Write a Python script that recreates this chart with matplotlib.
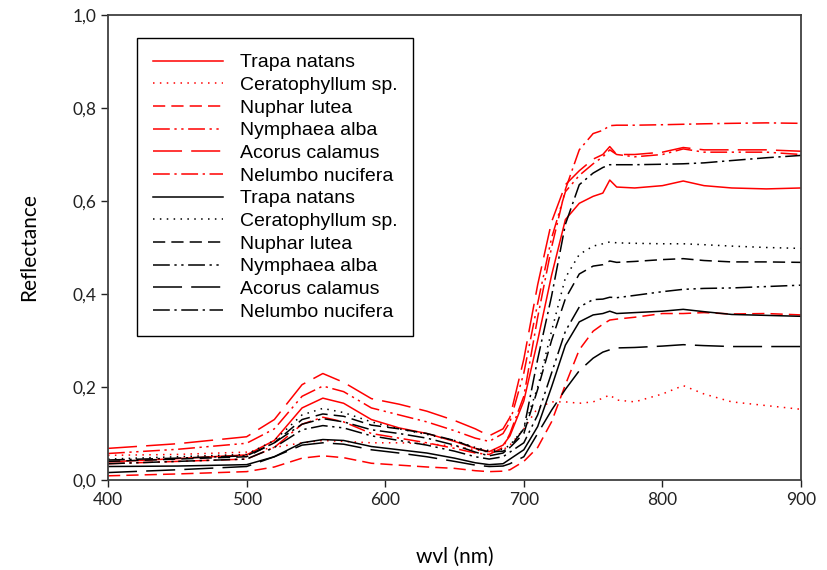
import matplotlib.pyplot as plt
from matplotlib.ticker import FuncFormatter

# wavelengths (nm)
wvl = [400, 450, 500, 520, 540, 555, 570, 590, 610, 630, 650, 665, 675, 685, 690,
       700, 710, 720, 730, 740, 750, 757, 762, 767, 780, 800, 815, 830, 850, 875, 900]

names = ['Trapa natans', 'Ceratophyllum sp.', 'Nuphar lutea',
         'Nymphaea alba', 'Acorus calamus', 'Nelumbo nucifera']

# red group
red_trapa = [.039, .046, .054, .085, .155, .176, .165, .13, .112, .1, .083, .068, .061, .075, .095,
             .17, .30, .44, .56, .595, .61, .617, .645, .63, .628, .633, .643, .633, .628, .626, .628]
red_cerato = [.053, .055, .06, .07, .08, .085, .083, .08, .08, .078, .073, .065, .06, .065, .075,
              .11, .155, .168, .168, .165, .168, .176, .183, .172, .168, .185, .203, .185, .168, .16, .152]
red_nuphar = [.009, .013, .018, .028, .047, .052, .048, .036, .032, .028, .025, .02, .018, .019, .022,
              .04, .07, .125, .205, .28, .32, .335, .344, .346, .35, .358, .358, .36, .357, .358, .355]
red_nymph = [.057, .066, .079, .11, .18, .202, .19, .155, .14, .125, .106, .09, .083, .1, .125,
             .23, .38, .52, .62, .655, .68, .695, .71, .70, .695, .70, .712, .705, .705, .705, .70]
red_acorus = [.068, .078, .093, .13, .205, .229, .21, .175, .163, .148, .128, .11, .095, .11, .135,
              .26, .42, .555, .635, .665, .69, .70, .717, .70, .70, .705, .715, .71, .71, .71, .707]
red_nelumbo = [.035, .04, .045, .07, .12, .135, .125, .1, .09, .08, .068, .058, .055, .07, .1,
               .18, .35, .50, .625, .71, .745, .752, .762, .763, .763, .764, .765, .766, .767, .768, .767]

# black group
blk_trapa = [.029, .03, .033, .05, .08, .087, .085, .072, .065, .058, .047, .037, .033, .035, .045,
             .065, .115, .20, .29, .34, .355, .358, .363, .358, .36, .363, .367, .362, .356, .354, .352]
blk_cerato = [.045, .05, .055, .085, .14, .154, .145, .125, .11, .098, .085, .07, .063, .066, .075,
              .11, .2, .32, .435, .485, .503, .508, .512, .51, .509, .508, .508, .506, .503, .5, .498]
blk_nuphar = [.04, .045, .05, .08, .13, .142, .137, .118, .11, .1, .085, .068, .06, .062, .07,
              .1, .195, .3, .39, .443, .46, .463, .471, .468, .47, .474, .476, .472, .469, .469, .468]
blk_nymph = [.035, .04, .045, .07, .108, .117, .112, .095, .085, .075, .062, .05, .045, .05, .06,
             .08, .14, .23, .32, .372, .388, .389, .393, .392, .397, .405, .41, .412, .413, .416, .419]
blk_acorus = [.016, .022, .029, .05, .075, .08, .077, .065, .058, .05, .04, .032, .029, .03, .035,
              .05, .1, .15, .195, .235, .262, .275, .28, .284, .285, .288, .291, .289, .287, .287, .287]
blk_nelumbo = [.043, .047, .052, .08, .12, .132, .125, .108, .1, .09, .075, .06, .052, .058, .07,
               .11, .26, .395, .55, .635, .66, .672, .678, .678, .678, .679, .68, .682, .687, .693, .698]

red_series = [red_trapa, red_cerato, red_nuphar, red_nymph, red_acorus, red_nelumbo]
blk_series = [blk_trapa, blk_cerato, blk_nuphar, blk_nymph, blk_acorus, blk_nelumbo]

styles = ['-', (0, (1, 3.5)), (0, (8, 4)), (0, (11, 3, 1.5, 3, 1.5, 3)),
          (0, (19, 6)), (0, (11, 3, 1.5, 3))]

fig = plt.figure(figsize=(8.27, 5.70), dpi=100)
ax = fig.add_axes([0.1306, 0.1579, 0.838, 0.8158])

for ys, ls, nm in zip(red_series, styles, names):
    ax.plot(wvl, ys, color='#ff0000', linestyle=ls, lw=1.1, label=nm)
for ys, ls, nm in zip(blk_series, styles, names):
    ax.plot(wvl, ys, color='black', linestyle=ls, lw=1.1, label=nm)

ax.set_xlim(400, 900)
ax.set_ylim(0, 1.0)
ax.set_xticks([400, 500, 600, 700, 800, 900])
ax.set_yticks([0, 0.2, 0.4, 0.6, 0.8, 1.0])
ax.yaxis.set_major_formatter(FuncFormatter(lambda v, p: ('%.1f' % v).replace('.', ',')))
ax.tick_params(direction='out', length=5, width=1, labelsize=12.5, colors='#222222')
for lab in ax.get_xticklabels() + ax.get_yticklabels():
    lab.set_fontfamily('Lato')
for s in ax.spines.values():
    s.set_color('#404040')
    s.set_linewidth(1.3)

ax.set_xlabel('wvl (nm)', fontsize=15, family='Lato', labelpad=28)
ax.set_ylabel('Reflectance', fontsize=15, family='Lato', labelpad=24)

leg = ax.legend(loc='upper left', bbox_to_anchor=(0.042, 0.95), ncol=1,
                prop={'family': 'Liberation Sans', 'size': 14},
                handlelength=3.6, handletextpad=0.9, labelspacing=0.26,
                borderpad=0.8, borderaxespad=0, fancybox=False, framealpha=1)
leg.get_frame().set_edgecolor('black')
leg.get_frame().set_linewidth(1.0)

plt.savefig('out.png')
